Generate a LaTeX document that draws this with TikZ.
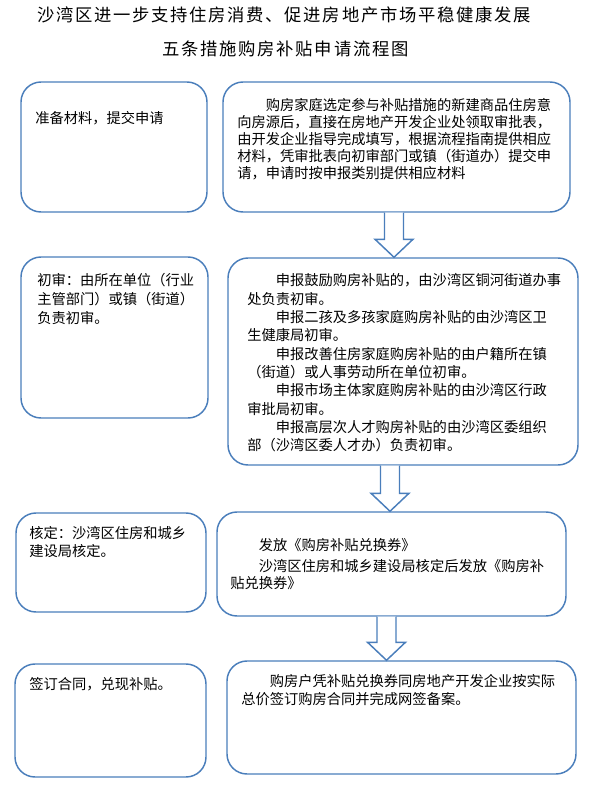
\documentclass[tikz,border=0pt]{standalone}
\usepackage{fontspec}
\setmainfont{Noto Sans CJK SC}
\newfontfamily\titlefont[LetterSpace=10]{Noto Sans CJK SC}
\usetikzlibrary{calc}
\definecolor{boxblue}{RGB}{74, 126, 187}

% block arrow between two boxes: centre x, from box, to box
\newcommand{\flowarrow}[3]{%
  \draw[blockarrow] (#1-9.5,0 |- #2.south)
    -- ($(#1-9.5,0 |- #3.north)+(0,-18)$)
    -- ($(#1-19,0 |- #3.north)+(0,-18)$)
    -- (#1,0 |- #3.north)
    -- ($(#1+19,0 |- #3.north)+(0,-18)$)
    -- ($(#1+9.5,0 |- #3.north)+(0,-18)$)
    -- (#1+9.5,0 |- #2.south);
}

\begin{document}
\begin{tikzpicture}[
    x=0.75pt, y=-0.75pt,
    stepbox/.style={draw=boxblue, line width=1.1pt, rounded corners=15pt,
                    fill=white, inner sep=0pt},
    boxsize/.style 2 args={minimum width=#1*0.75pt, minimum height=#2*0.75pt},
    boxtext/.style={anchor=north west, align=left, inner sep=0pt},
    titletext/.style={inner sep=0pt, font=\titlefont\fontsize{13pt}{15pt}\selectfont},
    blockarrow/.style={draw=boxblue, line width=1.1pt, fill=white, line join=miter}
]
    \useasboundingbox (0,0) rectangle (596,786);

    % ==================== TITLE ====================
    \node[titletext] (title1) at (284,15) {沙湾区进一步支持住房消费、促进房地产市场平稳健康发展};
    \node[titletext] (title2) at (285.5,49) {五条措施购房补贴申请流程图};

    % ==================== LEFT COLUMN ====================
    \node[stepbox, boxsize={186}{130}] (applynote) at (114,147) {};
    \node[stepbox, boxsize={187}{161}] (reviewnote) at (114.5,337.5) {};
    \node[stepbox, boxsize={190}{99}] (issuenote) at (111,562.5) {};
    \node[stepbox, boxsize={191}{113}] (contractnote) at (110.5,720.5) {};

    % ==================== RIGHT COLUMN ====================
    \node[stepbox, boxsize={347}{130}] (apply) at (396.5,147) {};
    \node[stepbox, boxsize={350}{207}] (review) at (403,361.5) {};
    \node[stepbox, boxsize={349}{104}] (issue) at (391.5,564) {};
    \node[stepbox, boxsize={349}{113}] (contract) at (401.5,717.5) {};

    % ==================== TEXTS ====================
    \node[boxtext, font=\fontsize{10.7pt}{12.75pt}\selectfont] (applynotetext) at (35,111.5)
        {准备材料，提交申请};
    \node[boxtext, font=\fontsize{10.7pt}{12.75pt}\selectfont] (applytext) at (237,98.5)
        {\hspace*{2em}购房家庭选定参与补贴措施的新建商品住房意\\
         向房源后，直接在房地产开发企业处领取审批表，\\
         由开发企业指导完成填写，根据流程指南提供相应\\
         材料，凭审批表向初审部门或镇（街道办）提交申\\
         请，申请时按申报类别提供相应材料};

    \node[boxtext, font=\fontsize{10.7pt}{14.25pt}\selectfont] (reviewnotetext) at (37,273.5)
        {初审：由所在单位（行业\\
         主管部门）或镇（街道）\\
         负责初审。};
    \node[boxtext, font=\fontsize{10.7pt}{13.75pt}\selectfont] (reviewtext) at (247,273.5)
        {\hspace*{2em}申报鼓励购房补贴的，由沙湾区铜河街道办事\\
         处负责初审。\\
         \hspace*{2em}申报二孩及多孩家庭购房补贴的由沙湾区卫\\
         生健康局初审。\\
         \hspace*{2em}申报改善住房家庭购房补贴的由户籍所在镇\\
         （街道）或人事劳动所在单位初审。\\
         \hspace*{2em}申报市场主体家庭购房补贴的由沙湾区行政\\
         审批局初审。\\
         \hspace*{2em}申报高层次人才购房补贴的由沙湾区委组织\\
         部（沙湾区委人才办）负责初审。};

    \node[boxtext, font=\fontsize{10.7pt}{13.5pt}\selectfont] (issuenotetext) at (29,526.5)
        {核定：沙湾区住房和城乡\\
         建设局核定。};
    \node[boxtext, font=\fontsize{10.7pt}{12.75pt}\selectfont] (issuetext) at (230,538.5)
        {\hspace*{2em}发放《购房补贴兑换券》\\[3pt]
         \hspace*{2em}沙湾区住房和城乡建设局核定后发放《购房补\\
         贴兑换券》};

    \node[boxtext, font=\fontsize{10.7pt}{13.5pt}\selectfont] (contractnotetext) at (29,677.5)
        {签订合同，兑现补贴。};
    \node[boxtext, font=\fontsize{10.7pt}{13.5pt}\selectfont] (contracttext) at (241,674.5)
        {\hspace*{2em}购房户凭补贴兑换券同房地产开发企业按实际\\
         总价签订购房合同并完成网签备案。};

    % ==================== ARROWS ====================
    \flowarrow{394}{apply}{review}
    \flowarrow{390}{review}{issue}
    \flowarrow{386.5}{issue}{contract}
\end{tikzpicture}
\end{document}
